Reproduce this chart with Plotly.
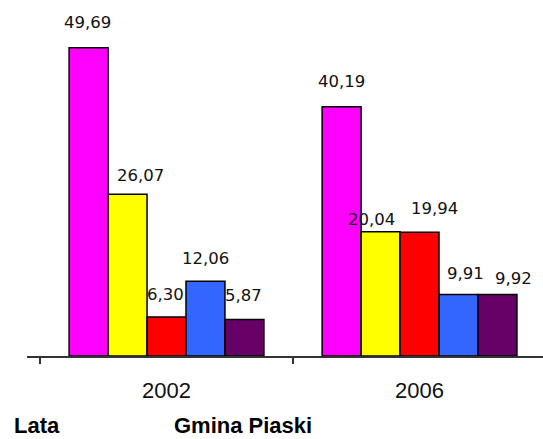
import plotly.graph_objects as go

years = ["2002", "2006"]
series_names = ["A", "B", "C", "D", "E"]
values = [
    [49.69, 40.19],
    [26.07, 20.04],
    [6.30, 19.94],
    [12.06, 9.91],
    [5.87, 9.92],
]
label_texts = [
    ["49,69", "40,19"],
    ["26,07", "20,04"],
    ["6,30", "19,94"],
    ["12,06", "9,91"],
    ["5,87", "9,92"],
]
colors = ["#FF00FF", "#FFFF00", "#FF0000", "#3366FF", "#660066"]

# label nudges (pixels) relative to bar top-center
label_dx = [[-1, 0], [13, -9], [-1, 15], [0, 7], [-1, 16]]
label_dy = [[25, 25], [19, 12], [22, 24], [23, 21], [24, 16]]

W, H = 543, 439
ML, MR, MT, MB = 27, 0, 0, 83
BARGAP = 0.23
x_range = [-0.5514, 1.488]
y_range = [0, 57.4]

fig = go.Figure()
for i, name in enumerate(series_names):
    fig.add_trace(go.Bar(
        name=name, x=years, y=values[i],
        marker=dict(color=colors[i], line=dict(color="#000000", width=1.5)),
        showlegend=False, hoverinfo="skip",
    ))

n = len(series_names)
bw = (1 - BARGAP) / n
annotations = []
for i in range(n):
    for j in range(len(years)):
        annotations.append(dict(
            x=j + (i - (n - 1) / 2) * bw, y=values[i][j], xref="x", yref="y",
            text=label_texts[i][j], showarrow=False,
            xanchor="center", yanchor="middle",
            xshift=label_dx[i][j], yshift=label_dy[i][j],
            font=dict(family="DejaVu Sans", size=16.5, color="#111111"),
        ))

plot_h = H - MT - MB
plot_w = W - ML - MR
annotations.append(dict(
    x=(13 - ML) / plot_w, y=-MB / plot_h, xref="x domain", yref="paper",
    text="<b>Lata</b>", showarrow=False, xanchor="left", yanchor="bottom",
    yshift=0, borderpad=0,
    font=dict(family="Liberation Sans", size=22, color="#000000"),
))
annotations.append(dict(
    x=(173 - ML) / plot_w, y=-MB / plot_h, xref="x domain", yref="paper",
    text="<b>Gmina Piaski</b>", showarrow=False, xanchor="left", yanchor="bottom",
    yshift=0, borderpad=0,
    font=dict(family="Liberation Sans", size=22, color="#000000"),
))

fig.update_layout(
    width=W, height=H,
    margin=dict(l=ML, r=MR, t=MT, b=MB),
    paper_bgcolor="white", plot_bgcolor="white",
    barmode="group", bargap=BARGAP, bargroupgap=0,
    annotations=annotations,
    xaxis=dict(
        type="category", range=x_range, showgrid=False, zeroline=False,
        showline=True, linecolor="#333333", linewidth=1.5,
        ticks="outside", tickson="boundaries", ticklen=6, tickcolor="#333333", tickwidth=1.5,
        tickfont=dict(family="Liberation Sans", size=22, color="#111111"),
        ticklabelstandoff=14,
    ),
    yaxis=dict(range=y_range, visible=False, showgrid=False, zeroline=False),
)
fig.write_html(
    "out.html",
    config={"displayModeBar": False},
    post_script="document.body.style.margin='0px';document.body.style.padding='0px';",
)
